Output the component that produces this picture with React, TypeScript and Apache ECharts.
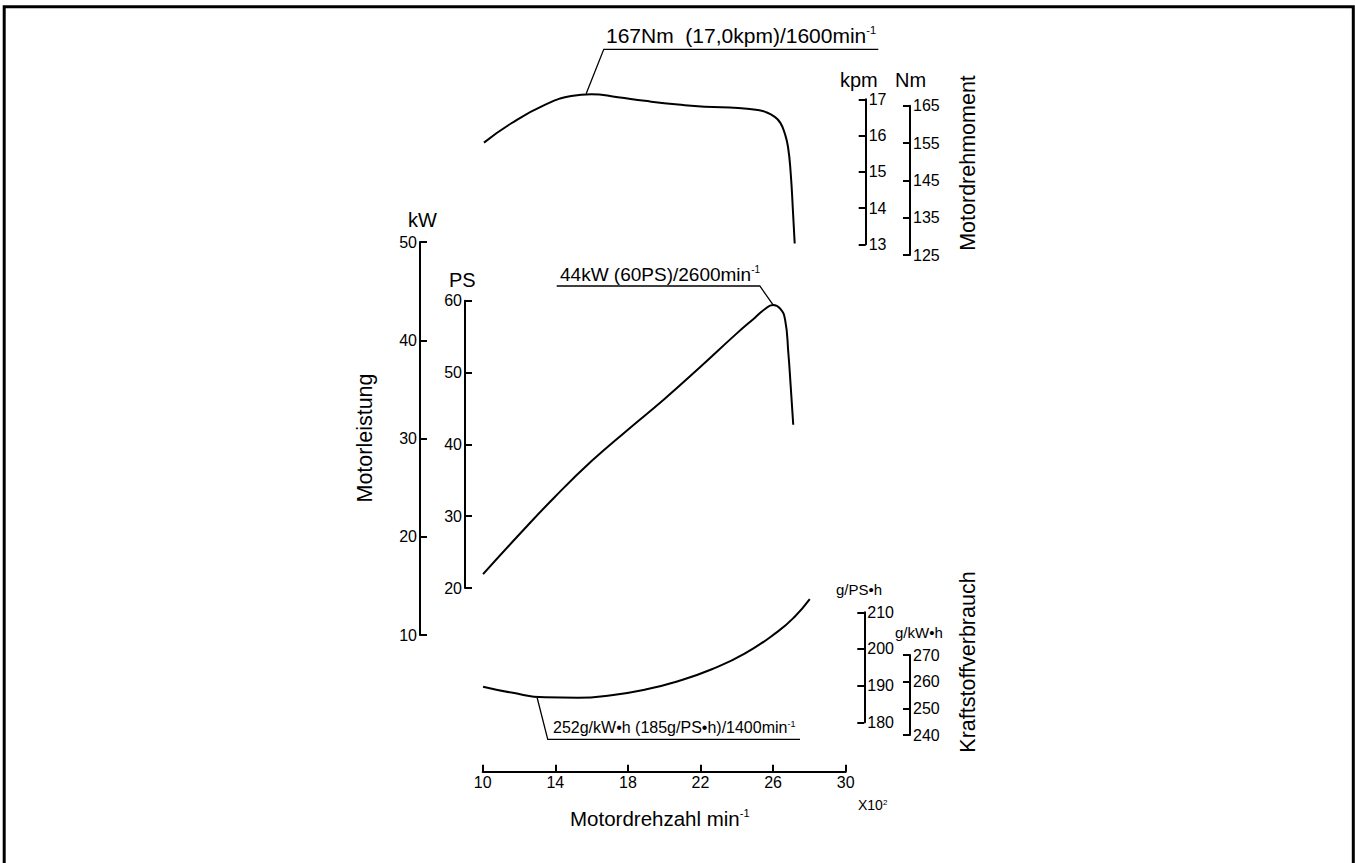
import React, { useEffect, useRef } from "react";
import * as echarts from "echarts";

const FONT = "'Liberation Sans', Arial, Helvetica, sans-serif";

// Engine speed (x100 min^-1)
const rpmMin = 10;
const rpmMax = 30;
const rpmInterval = 4;

// Power curve: engine speed (x100 min^-1) -> kW
const powerRpm = [10.02, 12, 14, 16, 18, 20, 22, 24, 25, 25.5, 26.0, 26.38, 26.66, 26.84, 26.97, 27.11];
const powerKW = [16.2, 20.2, 24.1, 27.7, 30.9, 34.0, 37.3, 40.7, 42.3, 43.1, 43.6, 43.25, 42.1, 38.7, 35.3, 31.4];

// Torque curve: engine speed -> Nm
const torqueRpm = [10.07, 11.58, 13.42, 14.88, 15.98, 17.45, 18.93, 20.76, 22.23, 24.07, 25.17, 25.54, 26.09, 26.4, 26.64, 26.82, 26.97, 27.1, 27.19];
const torqueNm = [155.1, 160.3, 165.2, 167.6, 168.1, 167.25, 166.3, 165.3, 164.7, 164.4, 163.85, 163.4, 162.0, 160.4, 157.6, 154.0, 146.9, 136.2, 128.1];

// Fuel consumption curve: engine speed -> g/PS·h
const fuelRpm = [10.02, 11.58, 13.42, 15.25, 17.09, 18.93, 20.76, 22.59, 24.43, 26.27, 27.19, 28.02];
const fuelGPSh = [189.7, 188.1, 186.8, 186.7, 187.4, 188.9, 191.2, 194.4, 198.7, 204.8, 208.8, 213.6];

// Axis ranges
const kwRange = [10, 50];
const psRange = [20, 60];
const kpmRange = [13, 17];
const nmRange = [125, 165];
const gpshRange = [180, 210];
const gkwhRange = [240, 270];

// Annotation anchors (data coords)
const torquePeak = [15.7, 168.2];
const powerPeak = [26.0, 43.6];
const fuelMin = [13.0, 186.7];

const zip = (xs: number[], ys: number[]) => xs.map((x, i) => [x, ys[i]]);

const GL = 482.7;
const GW = 363;

function yAxisCfg(grid: number, pos: "left" | "right", offset: number, range: number[], interval: number, fontSize: number, margin: number) {
  return {
    gridIndex: grid,
    type: "value",
    position: pos,
    offset,
    min: range[0],
    max: range[1],
    interval,
    axisLine: { show: true, onZero: false, lineStyle: { color: "#000", width: 2 } },
    axisTick: { show: true, inside: true, length: 7, lineStyle: { color: "#000", width: 2 } },
    axisLabel: { show: true, color: "#000", fontSize, fontFamily: FONT, margin },
    splitLine: { show: false },
  };
}

function hiddenX(grid: number) {
  return { gridIndex: grid, type: "value", min: rpmMin, max: rpmMax, show: false };
}

function supRich(size: number, supSize: number) {
  return {
    m: { fontSize: size, fontFamily: FONT, fill: "#000" },
    s: { fontSize: supSize, fontFamily: FONT, fill: "#000", verticalAlign: "top" },
  };
}

export default function App() {
  const ref = useRef<HTMLDivElement>(null);
  useEffect(() => {
    const chart = echarts.init(ref.current!, undefined, { renderer: "svg" });
    const grids = [
      { left: GL, width: GW, top: 242, height: 529.7 }, // x axis
      { left: GL, width: GW, top: 242, height: 393 }, // kW
      { left: GL, width: GW, top: 300.7, height: 287.3 }, // PS
      { left: GL, width: GW, top: 99.3, height: 145 }, // kpm
      { left: GL, width: GW, top: 105.7, height: 149.3 }, // Nm
      { left: GL, width: GW, top: 612.3, height: 110 }, // g/PSh
      { left: GL, width: GW, top: 655, height: 80 }, // g/kWh
    ];
    const lineStyle = { color: "#000", width: 2 };
    const option: any = {
      animation: false,
      backgroundColor: "#fff",
      grid: grids.map((g) => ({ ...g, containLabel: false, show: false })),
      xAxis: [
        {
          gridIndex: 0,
          type: "value",
          position: "bottom",
          min: rpmMin,
          max: rpmMax,
          interval: rpmInterval,
          axisLine: { show: true, onZero: false, lineStyle: { color: "#000", width: 2 } },
          axisTick: { show: true, inside: true, length: 7, lineStyle: { color: "#000", width: 2 } },
          axisLabel: { color: "#000", fontSize: 16, fontFamily: FONT, margin: 3 },
          splitLine: { show: false },
        },
        hiddenX(1),
        hiddenX(2),
        hiddenX(3),
        hiddenX(4),
        hiddenX(5),
        hiddenX(6),
      ],
      yAxis: [
        { gridIndex: 0, type: "value", min: 0, max: 1, show: false },
        yAxisCfg(1, "left", 62.7, kwRange, 10, 16, 3),
        yAxisCfg(2, "left", 17.7, psRange, 10, 16, 3),
        yAxisCfg(3, "right", 20, kpmRange, 1, 16, 3),
        yAxisCfg(4, "right", 64.3, nmRange, 10, 16, 3),
        yAxisCfg(5, "right", 18.6, gpshRange, 10, 16, 3),
        yAxisCfg(6, "right", 64.3, gkwhRange, 10, 16, 3),
      ],
      series: [
        {
          name: "Motorleistung",
          type: "line",
          xAxisIndex: 1,
          yAxisIndex: 1,
          data: zip(powerRpm, powerKW),
          smooth: 0.5,
          symbol: "none",
          clip: false,
          lineStyle,
        },
        {
          name: "Motordrehmoment",
          type: "line",
          xAxisIndex: 4,
          yAxisIndex: 4,
          data: zip(torqueRpm, torqueNm),
          smooth: 0.5,
          symbol: "none",
          clip: false,
          lineStyle,
        },
        {
          name: "Kraftstoffverbrauch",
          type: "line",
          xAxisIndex: 5,
          yAxisIndex: 5,
          data: zip(fuelRpm, fuelGPSh),
          smooth: 0.5,
          symbol: "none",
          clip: false,
          lineStyle,
        },
      ],
    };
    chart.setOption(option);

    const tp = chart.convertToPixel({ gridIndex: 4 } as any, torquePeak) as number[];
    const pp = chart.convertToPixel({ gridIndex: 1 } as any, powerPeak) as number[];
    const fp = chart.convertToPixel({ gridIndex: 5 } as any, fuelMin) as number[];

    const leader = { stroke: "#000", lineWidth: 1.3, fill: "none" };
    const txt = (x: number, y: number, text: string, fontSize: number, extra: any = {}) => ({
      type: "text",
      x,
      y,
      silent: true,
      ...extra,
      style: { text, fontSize, fontFamily: FONT, fill: "#000", align: "left", verticalAlign: "middle", ...(extra.style || {}) },
    });

    const graphic: any[] = [
      { type: "rect", silent: true, shape: { x: 4.2, y: 6.8, width: 1349.1, height: 900 }, style: { fill: "none", stroke: "#000", lineWidth: 3 } },
      // torque annotation
      { type: "polyline", silent: true, shape: { points: [[tp[0], tp[1]], [tp[0] + 17.6, 49.3], [878.3, 49.3]] }, style: leader },
      txt(606, 35, "{m|167Nm  (17,0kpm)/1600min}{s|-1}", 21, { style: { rich: supRich(21, 11) } }),
      // power annotation
      { type: "polyline", silent: true, shape: { points: [[pp[0], pp[1]], [pp[0] - 13.3, 286], [556.7, 286]] }, style: leader },
      txt(560, 274, "{m|44kW (60PS)/2600min}{s|-1}", 19, { style: { rich: supRich(19, 10) } }),
      // fuel annotation
      { type: "polyline", silent: true, shape: { points: [[fp[0], fp[1]], [fp[0] + 10.6, 739.3], [800, 739.3]] }, style: leader },
      txt(553, 727.5, "{m|252g/kW•h (185g/PS•h)/1400min}{s|-1}", 16, { style: { rich: supRich(16, 9) } }),
      // axis names
      txt(408, 220, "kW", 20),
      txt(449, 280, "PS", 20),
      txt(840, 80, "kpm", 20),
      txt(895, 80, "Nm", 20),
      txt(836, 589, "g/PS•h", 15),
      txt(895, 632, "g/kW•h", 15),
      txt(570, 818, "{m|Motordrehzahl min}{s|-1}", 20.5, { style: { rich: supRich(20.5, 11) } }),
      txt(858, 805, "{m|X10}{s|2}", 14, { style: { rich: supRich(14, 8) } }),
      // rotated titles
      txt(365, 438, "Motorleistung", 21.5, { rotation: Math.PI / 2, style: { align: "center" } }),
      txt(968, 163, "Motordrehmoment", 21.5, { rotation: Math.PI / 2, style: { align: "center" } }),
      txt(968, 662, "Kraftstoffverbrauch", 21.5, { rotation: Math.PI / 2, style: { align: "center" } }),
    ];
    chart.setOption({ graphic });

    return () => chart.dispose();
  }, []);
  return (
    <div
      ref={ref}
      style={{ position: "fixed", left: 0, top: 0, width: 1355, height: 863, background: "#fff" }}
    />
  );
}
